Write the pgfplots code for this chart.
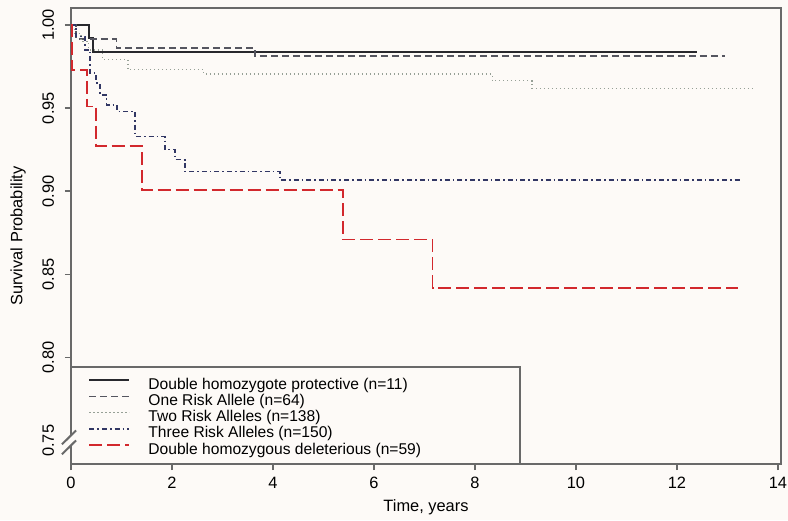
\documentclass[border=0pt]{standalone}
\usepackage{pgfplots}
\pgfplotsset{compat=1.18}
\usepackage{fontspec}
\setmainfont{Liberation Sans}
\usetikzlibrary{backgrounds}
\definecolor{axgray}{RGB}{105,105,105}
\definecolor{c1}{RGB}{40,40,45}
\definecolor{c2}{RGB}{85,85,95}
\definecolor{c3}{RGB}{150,160,150}
\definecolor{c4}{RGB}{50,55,100}
\definecolor{c5}{RGB}{210,40,45}
\definecolor{bg}{RGB}{253,250,247}
\begin{document}
\begin{tikzpicture}[font=\fontsize{8.2}{9.8}\selectfont]
\begin{axis}[
  scale only axis, width=355pt, height=228pt,
  xmin=0, xmax=14.06, ymin=0.736, ymax=1.0102,
  clip=false,
  axis line style={axgray, line width=1pt},
  tick style={axgray, line width=0.8pt},
  tick align=outside, tick pos=left, major tick length=3pt,
  xtick={0,2,4,6,8,10,12,14},
  ytick={0.75,0.80,0.85,0.90,0.95,1.00},
  /pgf/number format/assume math mode=true,
  yticklabel shift=2pt,
  yticklabel style={/pgf/number format/fixed, /pgf/number format/fixed zerofill, /pgf/number format/precision=2, rotate=90, anchor=south},
  xlabel={Time, years}, ylabel={Survival Probability},
  xlabel style={at={(rel axis cs:0.5,-0.094)}, anchor=center},
  ylabel style={at={(rel axis cs:-0.0746,0.5)}, anchor=center},
  legend style={at={(rel axis cs:0.024,0.011)}, anchor=south west, draw=none, fill=none,
    inner sep=0pt, row sep=0pt, column sep=9pt, font=\fontsize{7.8}{8}\selectfont,
    nodes={inner sep=0pt, text height=5.9pt, text depth=2.2pt}},
  legend cell align=left,
  legend image code/.code={\draw[#1] (0pt,2.7pt) -- (20pt,2.7pt);},
  const plot,
]
\addplot[c1, line width=1pt] coordinates {(0,1.0) (0.36,0.992) (0.44,0.9835) (12.4,0.9835)};
\addlegendentry{Double homozygote protective (n=11)}
\addplot[c2, line width=0.8pt, dash pattern=on 3.5pt off 2pt] coordinates {(0,1.0) (0.1,0.9915) (0.9,0.9863) (3.64,0.9813) (12.95,0.9813)};
\addlegendentry{One Risk Allele (n=64)}
\addplot[c3, line width=0.6pt, dash pattern=on 0.6pt off 1.4pt] coordinates {(0,1.0) (0.08,0.995) (0.2,0.99) (0.35,0.985) (0.63,0.979) (1.13,0.973) (2.63,0.9705) (8.34,0.9665) (9.13,0.962) (13.54,0.962)};
\addlegendentry{Two Risk Alleles (n=138)}
\addplot[c4, line width=0.8pt, dash pattern=on 2.5pt off 1.5pt on 0.8pt off 1.5pt] coordinates {(0,1.0) (0.1,0.993) (0.28,0.985) (0.38,0.971) (0.5,0.965) (0.57,0.958) (0.7,0.952) (0.91,0.948) (1.27,0.933) (1.86,0.925) (2.06,0.919) (2.26,0.912) (4.14,0.9066) (13.3,0.9066)};
\addlegendentry{Three Risk Alleles (n=150)}
\addplot[c5, line width=0.9pt, dash pattern=on 6.5pt off 2.5pt] coordinates {(0,1.0) (0.02,0.973) (0.32,0.951) (0.5,0.927) (1.4,0.9006) (5.38,0.871) (7.16,0.842) (13.2,0.842)};
\addlegendentry{Double homozygous deleterious (n=59)}
\draw[axgray, line width=1pt] (rel axis cs:0,0) rectangle (rel axis cs:0.6324,0.2127);
\fill[bg] (axis cs:-0.18,0.7418) -- (axis cs:0.1,0.7502) -- (axis cs:0.1,0.7562) -- (axis cs:-0.18,0.7478) -- cycle;
\draw[axgray, line width=1pt] (axis cs:-0.18,0.7418) -- (axis cs:0.1,0.7502);
\draw[axgray, line width=1pt] (axis cs:-0.18,0.7478) -- (axis cs:0.1,0.7562);
\end{axis}
\pgfresetboundingbox
\path[use as bounding box] ([shift={(-35.5pt,-28pt)}]current axis.south west) rectangle ([shift={(3.5pt,4pt)}]current axis.north east);
\begin{scope}[on background layer]
\fill[bg] ([shift={(-35.5pt,-28pt)}]current axis.south west) rectangle ([shift={(3.5pt,4pt)}]current axis.north east);
\end{scope}
\end{tikzpicture}
\end{document}
